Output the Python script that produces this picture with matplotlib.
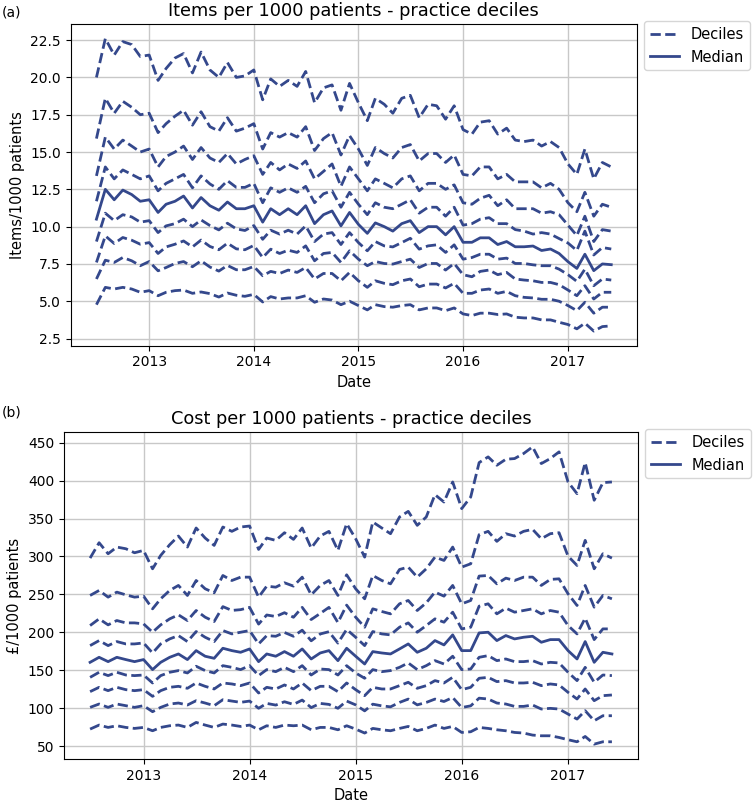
import matplotlib
matplotlib.use("Agg")
import matplotlib.pyplot as plt
import matplotlib.dates as mdates
from matplotlib.ticker import MultipleLocator, FormatStrFormatter
import pandas as pd

dates = pd.date_range("2012-07-01", periods=60, freq="MS")

# ---- Items per 1000 patients (deciles) ----
items_p10 = [4.77, 5.93, 5.82, 5.93, 5.82, 5.6, 5.71, 5.37, 5.6, 5.71, 5.75, 5.53, 5.62,
             5.51, 5.28, 5.55, 5.4, 5.33, 5.46,
             4.95, 5.31, 5.15, 5.22, 5.22, 5.37, 4.93, 5.15, 5.08, 4.77, 5.0,
             4.71, 4.42, 4.77, 4.64, 4.6, 4.71, 4.77, 4.42, 4.55, 4.55, 4.37, 4.55, 4.15, 4.04, 4.2,
             4.2, 4.11, 4.15, 3.93, 3.88, 3.88, 3.75, 3.75, 3.59, 3.44, 3.15, 3.53, 3.0, 3.3, 3.35]
items_p20 = [6.49, 7.75, 7.6, 7.93, 7.71, 7.38, 7.66, 7.04, 7.26, 7.53, 7.66, 7.31, 7.71,
             7.29, 7.02, 7.4, 7.11, 7.11, 7.33,
             6.71, 7.0, 6.86, 7.09, 6.93, 7.26, 6.49, 6.86, 6.86, 6.37, 6.93,
             6.37, 5.93, 6.37, 6.2, 6.11, 6.37, 6.49, 5.97, 6.15, 6.15, 5.89, 6.2, 5.53, 5.53, 5.75,
             5.82, 5.53, 5.66, 5.37, 5.26, 5.22, 5.13, 5.13, 5.0, 4.71, 4.37, 4.93, 4.2, 4.6, 4.6]
items_p30 = [7.6, 9.38, 8.87, 9.27, 9.09, 8.82, 8.93, 8.2, 8.64, 8.82, 9.04, 8.64, 9.1,
             8.67, 8.45, 8.89, 8.51, 8.45, 8.74,
             7.93, 8.49, 8.2, 8.42, 8.27, 8.71, 7.71, 8.2, 8.27, 7.6, 8.38,
             7.82, 7.38, 7.66, 7.53, 7.49, 7.66, 7.82, 7.26, 7.53, 7.53, 7.09, 7.53, 6.78, 6.64, 7.0,
             7.09, 6.78, 6.93, 6.49, 6.42, 6.37, 6.26, 6.26, 6.11, 5.75, 5.37, 6.04, 5.15, 5.6, 5.6]
items_p40 = [9.0, 10.9, 10.4, 10.8, 10.65, 10.3, 10.4, 9.6, 10.05, 10.2, 10.5, 10.0, 10.45,
             10.07, 9.78, 10.23, 9.85, 9.74, 10.07,
             9.15, 9.76, 9.5, 9.76, 9.5, 10.05, 9.0, 9.5, 9.6, 8.8, 9.6,
             8.93, 8.38, 9.0, 8.71, 8.64, 8.93, 9.22, 8.49, 8.71, 8.78, 8.27, 8.78, 7.82, 7.93, 8.15,
             8.15, 7.82, 7.89, 7.53, 7.53, 7.44, 7.38, 7.38, 7.15, 6.78, 6.33, 7.15, 6.04, 6.49, 6.42]
items_median = [10.5, 12.5, 11.8, 12.45, 12.15, 11.7, 11.8, 10.95, 11.5, 11.7,
                12.05, 11.25, 11.95, 11.4, 11.1, 11.65, 11.2, 11.2, 11.4, 10.3,
                11.2, 10.8, 11.2, 10.8, 11.4, 10.2, 10.8, 11.05, 10.05, 10.95,
                10.15, 9.55, 10.25, 10.0, 9.7, 10.2, 10.4, 9.6, 10.0, 10.0,
                9.45, 10.0, 8.95, 8.95, 9.25, 9.25, 8.8, 9.0, 8.65, 8.65,
                8.7, 8.4, 8.5, 8.2, 7.65, 7.2, 8.15, 7.05, 7.5, 7.45]
items_p60 = [11.7, 14.0, 13.2, 13.8, 13.5, 13.2, 13.4, 12.4, 12.9, 13.2, 13.5, 12.6, 13.4,
             12.86, 12.5, 13.08, 12.63, 12.63, 12.9,
             11.6, 12.6, 12.3, 12.6, 12.3, 12.7, 11.6, 12.2, 12.4, 11.3, 12.3,
             11.5, 10.8, 11.6, 11.3, 11.2, 11.5, 11.8, 10.9, 11.3, 11.3, 10.7, 11.3, 10.1, 10.2, 10.5,
             10.6, 10.2, 10.2, 9.8, 9.7, 9.5, 9.6, 9.5, 9.2, 8.9, 8.4, 9.7, 8.1, 8.6, 8.5]
items_p70 = [13.4, 16.0, 15.2, 15.8, 15.4, 15.0, 15.2, 14.0, 14.7, 15.0, 15.4, 14.5, 15.3,
             14.6, 14.3, 14.9, 14.2, 14.5, 14.75,
             13.5, 14.3, 13.8, 14.2, 13.9, 14.4, 13.2, 13.7, 14.2, 12.7, 14.0,
             13.2, 12.4, 13.2, 12.9, 12.6, 13.2, 13.4, 12.4, 12.9, 12.9, 12.5, 12.8, 11.6, 11.5, 11.9,
             12.1, 11.4, 11.8, 11.2, 11.2, 11.2, 10.9, 11.0, 10.8, 10.1, 9.4, 10.7, 9.0, 9.8, 9.7]
items_p80 = [15.9, 18.6, 17.6, 18.4, 18.0, 17.5, 17.6, 16.3, 16.9, 17.4, 17.8, 16.8, 17.7,
             16.7, 16.4, 17.3, 16.4, 16.6, 16.9,
             15.2, 16.3, 16.0, 16.3, 16.0, 16.7, 15.1, 15.9, 16.3, 14.8, 16.1,
             15.2, 14.1, 15.3, 14.9, 14.6, 15.3, 15.5, 14.4, 14.9, 14.9, 14.3, 14.8, 13.5, 13.4, 14.0,
             14.0, 13.2, 13.5, 13.0, 13.0, 13.0, 12.6, 12.9, 12.5, 11.6, 11.0, 12.3, 10.7, 11.5, 11.3]
items_p90 = [20.0, 22.6, 21.5, 22.4, 22.2, 21.4, 21.5, 19.8, 20.6, 21.3, 21.6, 20.3, 21.7,
             20.5, 20.0, 21.0, 20.0, 20.1, 20.5,
             18.5, 19.9, 19.4, 19.8, 19.4, 20.4, 18.3, 19.3, 19.5, 17.8, 19.6,
             18.3, 17.1, 18.6, 18.2, 17.6, 18.6, 18.8, 17.3, 18.2, 18.1, 17.2, 18.1, 16.5, 16.2, 17.0,
             17.1, 16.2, 16.6, 15.8, 15.7, 15.8, 15.4, 15.7, 15.3, 14.2, 13.5, 15.2, 13.2, 14.3, 14.0]

# ---- Cost per 1000 patients (deciles) ----
cost_p10 = [72.8, 78.1, 75.0, 77.2, 75.0, 73.7, 75.0, 70.6, 75.0, 77.2, 78.1, 75.0, 81.6, 78.1, 75.0, 79.4,
            78.1, 76.3, 78.1, 71.9, 77.2, 75.0, 78.1, 77.2, 78.1, 71.9, 75.0, 75.0, 71.9, 77.2,
            72.8, 67.6, 73.7, 71.9, 70.6, 73.7, 76.3, 70.6, 73.7, 78.1, 73.7, 76.3, 68.4, 69.3, 75.0,
            73.7, 71.9, 70.6, 68.4, 67.6, 64.9, 64.0, 64.0, 61.8, 58.8, 56.1, 63.1, 53.0, 56.1, 56.1]
cost_p20 = [101.4, 105.8, 101.4, 105.8, 103.6, 101.4, 103.6, 95.7, 101.4, 105.8, 107.1, 104.5, 110.2, 107.1, 103.6, 111.5,
            109.7, 108.0, 109.7, 100.2, 106.6, 104.4, 108.8, 105.3, 111.0, 101.1, 106.6, 105.3, 100.2, 109.7,
            104.7, 96.8, 105.6, 103.4, 102.1, 107.9, 112.3, 104.7, 107.9, 112.3, 109.1, 114.4, 101.2, 103.4, 113.5,
            112.4, 107.1, 105.8, 102.7, 102.7, 104.5, 99.2, 100.1, 99.2, 92.6, 86.0, 97.0, 83.8, 90.4, 90.4]
cost_p30 = [122.1, 127.8, 123.4, 127.8, 124.7, 123.4, 124.7, 115.9, 123.4, 127.8, 129.1, 126.5, 133.5, 129.1, 125.6, 133.5,
            132.2, 130.0, 133.5, 120.3, 127.8, 125.6, 130.9, 125.6, 133.5, 123.4, 129.1, 129.1, 122.1, 133.5,
            124.7, 116.8, 127.8, 125.6, 125.6, 130.0, 134.4, 126.5, 130.0, 136.6, 133.5, 141.0, 124.7, 127.8, 139.7,
            140.9, 135.3, 136.6, 133.5, 133.5, 134.4, 130.0, 132.2, 130.9, 121.2, 112.4, 125.6, 110.2, 116.8, 117.7]
cost_p40 = [140.9, 147.6, 143.2, 147.6, 144.0, 143.2, 144.0, 133.5, 143.2, 147.6, 149.8, 146.7, 155.5, 149.8, 146.7, 156.3,
            154.1, 151.1, 156.3, 143.2, 151.1, 148.4, 154.1, 148.4, 156.3, 144.0, 151.9, 151.1, 144.0, 156.3,
            146.7, 139.7, 151.1, 148.4, 149.8, 154.1, 159.9, 151.1, 156.3, 162.9, 158.5, 168.7, 151.1, 151.9, 167.3,
            169.5, 162.9, 165.1, 161.6, 161.6, 162.9, 158.5, 160.7, 159.9, 147.6, 136.6, 154.1, 134.4, 144.0, 143.2]
cost_median = [160.7, 167.3, 161.6, 167.3, 164.3, 161.6, 164.3, 151.1, 160.7, 167.3, 171.7, 164.3, 176.1, 168.7, 166.0, 179.2,
               176.1, 173.9, 178.3, 161.6, 171.7, 168.7, 174.8, 168.7, 178.3, 165.1, 173.0, 176.1, 162.9, 179.2,
               168.7, 158.5, 174.8, 173.0, 171.7, 178.3, 184.9, 173.9, 179.2, 189.3, 183.6, 196.8, 176.1, 176.1, 199.4,
               200.3, 189.3, 195.9, 191.5, 193.7, 195.0, 187.1, 190.6, 190.6, 176.1, 165.1, 188.0, 160.7, 173.9, 171.7]
cost_p60 = [182.7, 189.3, 182.7, 188.0, 184.9, 184.9, 186.2, 173.0, 184.9, 191.5, 195.9, 188.0, 201.2, 193.7, 188.0, 202.5,
            198.1, 200.3, 202.5, 184.9, 195.9, 195.0, 200.0, 195.0, 203.0, 189.0, 198.0, 201.0, 186.0, 204.0,
            193.7, 182.7, 201.2, 198.1, 196.8, 206.9, 212.6, 200.3, 209.1, 217.9, 213.5, 226.7, 204.7, 206.9, 234.6,
            237.7, 224.5, 232.0, 226.7, 228.9, 231.1, 224.5, 228.9, 226.7, 209.1, 198.1, 218.8, 190.6, 204.7, 204.7]
cost_p70 = [209.1, 217.9, 210.0, 215.7, 212.6, 212.6, 211.3, 200.3, 210.0, 217.9, 223.2, 215.7, 228.9, 220.1, 214.4, 234.0,
            229.0, 230.0, 233.0, 211.0, 223.0, 221.0, 226.0, 220.0, 233.0, 217.0, 225.0, 233.0, 213.0, 236.0,
            220.1, 206.9, 231.1, 227.6, 224.5, 237.7, 242.1, 228.9, 239.0, 253.1, 247.8, 261.9, 237.7, 242.1, 274.2,
            275.0, 264.0, 271.5, 268.4, 272.8, 272.8, 261.9, 269.8, 270.6, 250.9, 235.5, 261.9, 233.3, 248.7, 244.3]
cost_p80 = [248.7, 255.3, 246.5, 253.1, 249.5, 246.5, 247.8, 231.1, 244.3, 255.3, 261.9, 248.7, 268.4, 257.5, 252.2, 275.0,
            268.4, 272.8, 272.8, 246.5, 261.0, 259.6, 265.4, 261.0, 272.8, 249.5, 261.9, 268.4, 248.7, 275.9,
            257.5, 244.3, 275.0, 268.4, 264.0, 282.9, 286.0, 272.8, 283.8, 299.2, 294.8, 312.4, 286.0, 290.4, 328.7,
            333.1, 319.9, 330.0, 326.9, 333.1, 335.7, 323.4, 330.0, 331.3, 300.5, 288.2, 321.2, 283.8, 303.6, 297.9]
cost_p90 = [297.9, 318.1, 303.6, 312.4, 310.2, 304.9, 308.0, 283.8, 301.4, 315.5, 326.9, 312.4, 337.5, 324.3, 314.6, 338.8,
            333.1, 338.8, 340.1, 309.3, 324.3, 321.2, 331.3, 322.5, 337.5, 311.1, 326.9, 333.1, 308.0, 343.2,
            323.4, 299.2, 345.4, 337.5, 330.0, 352.0, 359.4, 341.0, 352.0, 381.4, 371.7, 398.1, 363.0, 378.3, 423.6,
            431.1, 420.1, 428.0, 428.9, 435.5, 444.3, 422.3, 428.9, 437.7, 398.1, 382.7, 423.6, 374.0, 397.2, 398.1]

items_deciles = [items_p10, items_p20, items_p30, items_p40, items_p60, items_p70, items_p80, items_p90]
cost_deciles = [cost_p10, cost_p20, cost_p30, cost_p40, cost_p60, cost_p70, cost_p80, cost_p90]

titles = ["Items per 1000 patients - practice deciles", "Cost per 1000 patients - practice deciles"]
ylabels = ["Items/1000 patients", "£/1000 patients"]
panel_labels = ["(a)", "(b)"]

COLOR = "#34488c"

fig = plt.figure(figsize=(7.55, 8.05), dpi=100)
W, H = 755.0, 805.0
ax1 = fig.add_axes([70.7 / W, 1 - 345.7 / H, (637 - 70.7) / W, (345.7 - 24) / H])
ax2 = fig.add_axes([64 / W, 1 - 759 / H, (638 - 64) / W, (759 - 432) / H])

for ax, deciles, med, title, ylab, step in [
        (ax1, items_deciles, items_median, titles[0], ylabels[0], 2.5),
        (ax2, cost_deciles, cost_median, titles[1], ylabels[1], 50)]:
    for k, d in enumerate(deciles):
        ax.plot(dates, d, linestyle="--", color=COLOR, linewidth=2,
                label="Deciles" if k == 0 else None)
    ax.plot(dates, med, linestyle="-", color=COLOR, linewidth=2, label="Median")
    ax.set_title(title, fontsize=12.8)
    ax.set_ylabel(ylab, fontsize=10.5)
    ax.set_xlabel("Date", fontsize=10.5)
    ax.xaxis.set_major_locator(mdates.YearLocator())
    ax.xaxis.set_major_formatter(mdates.DateFormatter("%Y"))
    ax.yaxis.set_major_locator(MultipleLocator(step))
    ax.grid(True, color="#c8c8c8", linewidth=1.0)
    ax.set_axisbelow(True)
    ax.tick_params(labelsize=10)
    ax.legend(loc="upper left", bbox_to_anchor=(1.012, 1.008), borderaxespad=0,
              fontsize=10.5, frameon=True)

ax2.yaxis.set_major_formatter(FormatStrFormatter("%d"))

fig.text(2 / W, 1 - 12 / H, panel_labels[0], fontsize=10, va="center", ha="left")
fig.text(2 / W, 1 - 412 / H, panel_labels[1], fontsize=10, va="center", ha="left")

fig.savefig("out.png", dpi=100, facecolor="white")
